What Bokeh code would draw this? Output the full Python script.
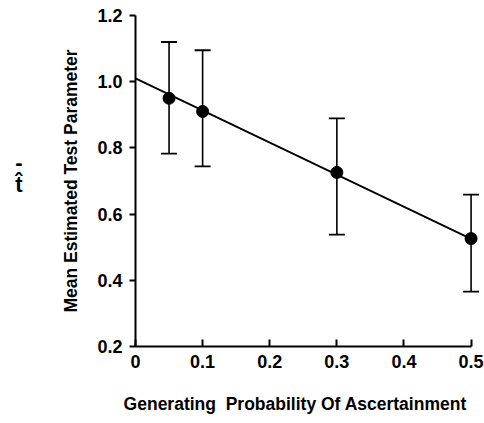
import numpy as np
from bokeh.plotting import figure
from bokeh.models import (ColumnDataSource, Whisker, TeeHead, FixedTicker, PrintfTickFormatter,
                          CustomJSTickFormatter, Range1d, LinearAxis, AllLabels)
from bokeh.embed import file_html
from bokeh.resources import INLINE

# data
prob = [0.05, 0.1, 0.3, 0.5]
mean_t = [0.95, 0.91, 0.726, 0.526]
upper = [1.12, 1.095, 0.889, 0.659]
lower = [0.783, 0.744, 0.538, 0.366]
fit_x = [0.0, 0.5]
fit_y = [1.01, 0.525]
x_ticks = [0, 0.1, 0.2, 0.3, 0.4, 0.5]
y_ticks = [0.2, 0.4, 0.6, 0.8, 1.0, 1.2]
x_title = "Generating\u00a0 Probability Of Ascertainment"
x_title_pos = [0.238]
y_title = "Mean Estimated Test Parameter"
symbol_parts = ["t\u0302", "-"]
symbol_pos = [0.69, 0.755]

FONT = "Liberation Sans"

p = figure(width=484, height=423, output_backend="svg", toolbar_location=None,
           x_range=Range1d(0, 0.52), y_range=Range1d(0.2, 1.2),
           min_border_left=135, min_border_right=0, min_border_top=15, min_border_bottom=77)
p.outline_line_color = None
p.grid.grid_line_color = None

src = ColumnDataSource(dict(x=prob, y=mean_t, up=upper, lo=lower))
p.line(fit_x, fit_y, line_color="black", line_width=1.8)
w = Whisker(base="x", upper="up", lower="lo", source=src, line_color="black", line_width=1.6,
            upper_head=TeeHead(size=16, line_color="black", line_width=1.8),
            lower_head=TeeHead(size=16, line_color="black", line_width=1.8))
p.add_layout(w)
p.scatter("x", "y", source=src, size=12, color="black")

for ax in (p.xaxis[0], p.yaxis[0]):
    ax.axis_line_width = 2
    ax.major_tick_line_width = 2
    ax.minor_tick_line_color = None
    ax.major_label_text_font = FONT
    ax.major_label_text_font_style = "bold"
    ax.major_label_text_font_size = "18px"
    ax.major_label_text_color = "black"
    ax.axis_label_text_font = FONT
    ax.axis_label_text_font_style = "bold"
    ax.axis_label_text_font_size = "17.5px"
    ax.axis_label_text_color = "black"

xa = p.xaxis[0]
xa.bounds = (0, 0.5)
xa.ticker = FixedTicker(ticks=x_ticks)
xa.formatter = CustomJSTickFormatter(code="return tick == 0 ? '0' : tick.toFixed(1);")
xa.major_tick_in = 7
xa.major_tick_out = 0
xa.major_label_standoff = 8

# x title drawn as the single tick label of a bare second bottom axis
ta = LinearAxis(ticker=FixedTicker(ticks=x_title_pos),
                formatter=CustomJSTickFormatter(args=dict(s=x_title), code="return s;"),
                axis_line_color=None, major_tick_line_color=None, minor_tick_line_color=None,
                major_tick_in=0, major_tick_out=0, major_label_standoff=23,
                major_label_text_font=FONT, major_label_text_font_style="bold",
                major_label_text_font_size="17.5px", major_label_text_color="black")
p.add_layout(ta, "below")

ya = p.yaxis[0]
ya.bounds = (0.2, 1.2)
ya.ticker = FixedTicker(ticks=y_ticks)
ya.formatter = PrintfTickFormatter(format="%.1f")
ya.major_tick_in = 0
ya.major_tick_out = 6
ya.major_label_standoff = 7
ya.axis_label = y_title
ya.axis_label_standoff = 13

sa = LinearAxis(ticker=FixedTicker(ticks=symbol_pos),
                formatter=CustomJSTickFormatter(args=dict(s=symbol_parts),
                                                code="return tick < 0.72 ? s[0] : s[1];"),
                major_label_policy=AllLabels(),
                axis_line_color=None, major_tick_line_color=None, minor_tick_line_color=None,
                major_tick_in=0, major_tick_out=0, major_label_standoff=36,
                major_label_text_font=FONT, major_label_text_font_style="bold",
                major_label_text_font_size="22px", major_label_text_color="black")
p.add_layout(sa, "left")

open("out.html", "w").write(file_html(p, INLINE))
